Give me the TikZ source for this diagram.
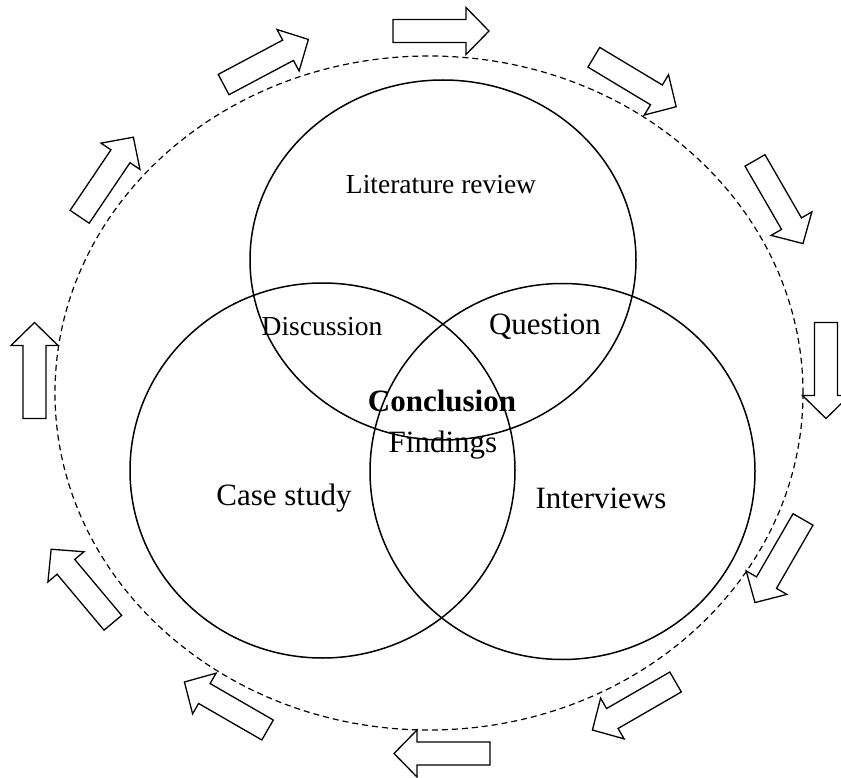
\documentclass[tikz,border=0pt]{standalone}
\usepackage{fontspec}
\setmainfont{Liberation Serif}
\begin{document}
\begin{tikzpicture}[x=1pt,y=-1pt,
  setcircle/.style={draw=black,line width=1.5pt},
  cycleline/.style={draw=black,line width=1.2pt,dash pattern=on 6pt off 4pt},
  blockarrow/.style={draw=black,fill=white,line width=1.3pt,line join=miter},
  label/.style={inner sep=0pt,font=\fontsize{27.5}{30}\selectfont},
  biglabel/.style={inner sep=0pt,font=\fontsize{31}{34}\selectfont},
  boldlabel/.style={inner sep=0pt,font=\fontsize{31}{34}\selectfont\bfseries}]
\useasboundingbox (0,0) rectangle (841,778);

% outer dashed cycle
\draw[cycleline] (429,393) ellipse [x radius=374, y radius=337];

% the three overlapping sets
\draw[setcircle] (443,260) ellipse [x radius=193, y radius=180];
\draw[setcircle] (322.5,470.5) ellipse [x radius=192.5, y radius=187.5];
\draw[setcircle] (562.5,471.5) ellipse [x radius=192.5, y radius=188];

% block arrows running clockwise round the cycle
\foreach \cx/\cy/\ang in {441/31/0, 635/82/-31, 779/202/-60, 826/370.5/-90,
    779/561/-120, 634/706/-150, 442/753.5/180, 226/706/150,
    82/586/130, 34.5/370.5/90, 106.5/177/56, 266/62/28}{
  \draw[blockarrow,shift={(\cx,\cy)},rotate=\ang]
    (-48,-11.5) -- (25,-11.5) -- (25,-23.5) -- (48,0) -- (25,23.5)
    -- (25,11.5) -- (-48,11.5) -- cycle;
}

% labels
\node[label] (lit) at (441,185) {Literature review};
\node[label] (disc) at (322,327) {Discussion};
\node[biglabel] (quest) at (545,327) {Question};
\node[boldlabel] (concl) at (442,401) {Conclusion};
\node[biglabel] (find) at (443,445) {Findings};
\node[biglabel] (case) at (284,498) {Case study};
\node[biglabel] (inter) at (601,498) {Interviews};
\end{tikzpicture}
\end{document}
